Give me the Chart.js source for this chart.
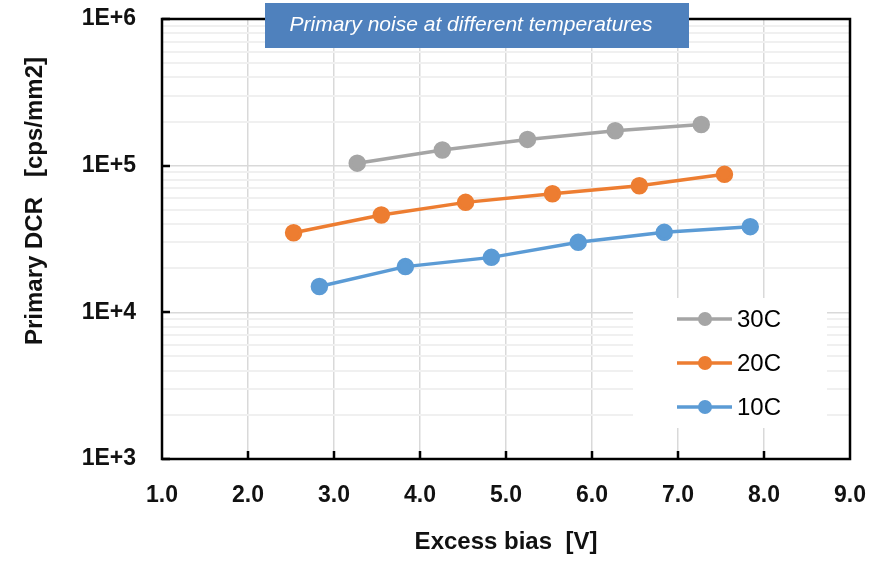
<!DOCTYPE html>
<html>
<head>
<meta charset="utf-8">
<script src="https://cdn.jsdelivr.net/npm/chart.js@4/dist/chart.umd.min.js"></script>
<style>
  html, body { margin: 0; padding: 0; background: #fff; }
  #wrap { width: 874px; height: 562px; position: relative; }
</style>
</head>
<body>
<div id="wrap"><canvas id="c" width="874" height="562"></canvas></div>
<script>
// ---- data ----
const seriesNames = ['30C', '20C', '10C'];
const x30 = [3.27, 4.26, 5.25, 6.27, 7.27];
const y30 = [104000, 128000, 151000, 173000, 191000];
const x20 = [2.53, 3.55, 4.53, 5.54, 6.55, 7.54];
const y20 = [34900, 46100, 56200, 64400, 73000, 87300];
const x10 = [2.83, 3.83, 4.83, 5.84, 6.84, 7.84];
const y10 = [15000, 20500, 23700, 30000, 35100, 38400];
const yDecades = [1e3, 1e4, 1e5, 1e6];
const yTickLabels = ['1E+3', '1E+4', '1E+5', '1E+6'];
const xMin = 1, xMax = 9;
const chartTitle = 'Primary noise at different temperatures';
const xTitle = 'Excess bias  [V]';
const yTitle = 'Primary DCR   [cps/mm2]';

const colors = ['#A5A5A5', '#ED7D31', '#5B9BD5'];
const toPts = (xs, ys) => xs.map((x, i) => ({ x: x, y: ys[i] }));
const seriesData = [toPts(x30, y30), toPts(x20, y20), toPts(x10, y10)];

const FONT = "'Liberation Sans', Arial, sans-serif";

function isDecade(v) {
  return yDecades.some(d => Math.abs(v / d - 1) < 1e-9);
}

const decor = {
  id: 'decor',
  beforeDraw(chart) {
    const ctx = chart.ctx;
    ctx.save();
    ctx.fillStyle = '#fff';
    ctx.fillRect(0, 0, chart.width, chart.height);
    ctx.restore();
  },
  afterDraw(chart) {
    const ctx = chart.ctx;
    const a = chart.chartArea;
    const xs = chart.scales.x, ys = chart.scales.y;
    ctx.save();
    // frame
    ctx.strokeStyle = '#000';
    ctx.lineWidth = 2.5;
    ctx.strokeRect(a.left, a.top, a.right - a.left, a.bottom - a.top);
    // inward ticks
    ctx.lineWidth = 2.5;
    ctx.beginPath();
    for (let v = xMin + 1; v < xMax; v++) {
      const px = Math.round(xs.getPixelForValue(v));
      ctx.moveTo(px, a.bottom);
      ctx.lineTo(px, a.bottom - 8);
    }
    yDecades.forEach(d => {
      const py = Math.round(ys.getPixelForValue(d));
      ctx.moveTo(a.left, py);
      ctx.lineTo(a.left + 8, py);
    });
    ctx.stroke();

    // y title
    ctx.save();
    ctx.translate(35, 201);
    ctx.rotate(-Math.PI / 2);
    ctx.fillStyle = '#111';
    ctx.font = 'bold 24px ' + FONT;
    ctx.textAlign = 'center';
    ctx.textBaseline = 'middle';
    ctx.fillText(yTitle, 0, 0);
    ctx.restore();

    // legend
    ctx.fillStyle = '#fff';
    ctx.fillRect(633, 298, 194, 130);
    chart.data.datasets.forEach((ds, i) => {
      const cy = 319 + i * 44;
      ctx.strokeStyle = ds.borderColor;
      ctx.lineWidth = 3.5;
      ctx.beginPath();
      ctx.moveTo(677, cy);
      ctx.lineTo(732, cy);
      ctx.stroke();
      ctx.fillStyle = ds.borderColor;
      ctx.beginPath();
      ctx.arc(705, cy, 7, 0, Math.PI * 2);
      ctx.fill();
      ctx.fillStyle = '#000';
      ctx.font = '24px ' + FONT;
      ctx.textAlign = 'left';
      ctx.textBaseline = 'middle';
      ctx.fillText(ds.label, 737, cy + 1);
    });

    // title box
    ctx.fillStyle = '#4F81BD';
    ctx.fillRect(265, 3, 424, 45);
    ctx.fillStyle = '#fff';
    ctx.font = 'italic 21px ' + FONT;
    ctx.textAlign = 'center';
    ctx.textBaseline = 'middle';
    ctx.fillText(chartTitle, 471, 25);
    ctx.restore();
  }
};

new Chart(document.getElementById('c'), {
  type: 'line',
  data: {
    datasets: seriesNames.map((n, i) => ({
      label: n,
      data: seriesData[i],
      borderColor: colors[i],
      backgroundColor: colors[i],
      pointBackgroundColor: colors[i],
      pointBorderColor: colors[i],
      borderWidth: 3.5,
      pointRadius: 7,
      pointHoverRadius: 7,
      tension: 0,
      fill: false
    }))
  },
  options: {
    responsive: false,
    animation: false,
    events: [],
    layout: { padding: { top: 19, right: 24, left: 0, bottom: 0 } },
    plugins: { legend: { display: false }, tooltip: { enabled: false }, title: { display: false } },
    scales: {
      x: {
        type: 'linear',
        min: xMin, max: xMax,
        afterFit(s) { s.height = 103; s.paddingLeft = 0; s.paddingRight = 0; },
        border: { display: false },
        grid: { color: '#D9D9D9', lineWidth: 1.5, drawTicks: false },
        ticks: {
          stepSize: 1,
          padding: 23,
          color: '#111',
          font: { family: FONT, size: 23, weight: 'bold' },
          callback: v => Number(v).toFixed(1),
          maxRotation: 0
        },
        title: {
          display: true,
          text: xTitle,
          color: '#111',
          font: { family: FONT, size: 24, weight: 'bold' },
          padding: { top: 0, bottom: 5 }
        }
      },
      y: {
        type: 'logarithmic',
        min: 1e3, max: 1e6,
        afterFit(s) { s.width = 162; s.paddingTop = 0; s.paddingBottom = 0; },
        afterBuildTicks(s) {
          const t = [];
          for (let k = 0; k < yDecades.length - 1; k++) {
            for (let m = 1; m <= 9; m++) t.push({ value: m * yDecades[k] });
          }
          t.push({ value: yDecades[yDecades.length - 1] });
          s.ticks = t;
        },
        border: { display: false },
        grid: {
          drawTicks: false,
          color: c => isDecade(c.tick.value) ? '#D9D9D9' : '#F0F0F0',
          lineWidth: c => isDecade(c.tick.value) ? 1.5 : 2
        },
        ticks: {
          autoSkip: false,
          padding: 26,
          color: '#111',
          font: { family: FONT, size: 23, weight: 'bold' },
          callback: v => {
            const i = yDecades.findIndex(d => Math.abs(v / d - 1) < 1e-9);
            return i >= 0 ? yTickLabels[i] : '';
          }
        }
      }
    }
  },
  plugins: [decor]
});
</script>
</body>
</html>
